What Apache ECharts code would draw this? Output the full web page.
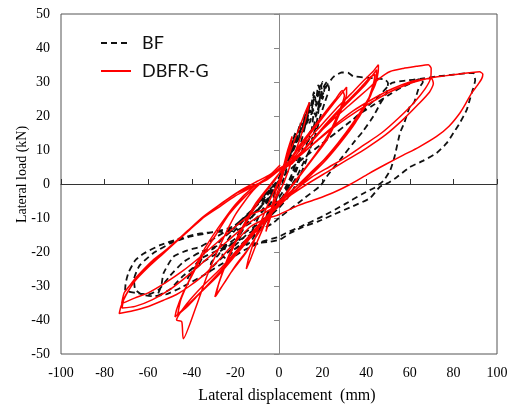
<!DOCTYPE html>
<html>
<head>
<meta charset="utf-8">
<script src="https://cdn.jsdelivr.net/npm/echarts@6/dist/echarts.min.js"></script>
<style>
html,body{margin:0;padding:0;background:#fff;}
#chart{width:515px;height:405px;}
</style>
</head>
<body>
<div id="chart"></div>
<script>
// ---- axis ticks ----
var xTicks = [-100,-80,-60,-40,-20,0,20,40,60,80,100];
var yTicks = [-50,-40,-30,-20,-10,0,10,20,30,40,50];
var seriesNames = ['BF','DBFR-G'];

// ---- BF (black dashed) loops: [displacement mm, load kN] ----
var bfLoop1 = [[0,0],[2,4],[4,8],[6,12.5],[7.5,15],[7,13],[5,8],[3,3.5],[1,-1],[-1,-4],[-3,-7],[-5,-10],[-7,-12],[-6,-10],[-4,-6],[-2,-3],[0,0]];
var bfLoop2 = [[2,4],[5,9],[8,14],[10,18],[11,17],[12,21],[13,20],[14,24],[13.5,22],[12,17],[10,12],[8,7],[6,3],[3,-1],[0,-4],[-3,-7],[-6,-10],[-9,-13],[-11,-15],[-13,-17],[-15,-18],[-14,-16],[-11,-12],[-8,-8],[-5,-5],[-2,-2],[0,0]];
var bfLoop3 = [[3,6],[6,10],[9,15],[11,17],[12,20],[13,19],[14,23],[15,22],[16,26],[17,25],[18,29],[19,27],[18.5,24],[17,20],[16,21],[15,16],[13,12],[12,13],[10,8],[8,4],[5,0],[2,-4],[-2,-8],[-6,-11],[-10,-14],[-14,-16],[-18,-18],[-22,-20],[-21,-18],[-18,-15],[-14,-11],[-10,-8],[-6,-5],[-2,-1],[0,1]];
var bfLoop3b = [[2,5],[5,9],[7,14],[9,13],[10,18],[12,17],[13,22],[14,21],[16,27],[17,24],[19,29],[20,27],[19,23],[17.5,22],[16,17],[14,15],[12,10],[10,9],[8,5],[6,2],[3,-2],[0,-6],[-4,-9],[-8,-13],[-12,-15],[-16,-18],[-20,-19],[-24,-22],[-26,-21],[-24,-18],[-20,-16],[-17,-13],[-13,-10],[-9,-7],[-5,-3],[-1,0],[0,1]];
var bfLoop4 = [[4,7],[7,12],[10,16],[12,18],[13,22],[15,21],[16,25],[18,26],[19,28],[20,30],[21,29],[20,25],[19,26],[18,21],[17,17],[15,13],[16,14],[14,10],[12,6],[10,3],[7,-1],[4,-4],[0,-7],[-5,-10],[-10,-13],[-15,-15],[-20,-18],[-25,-21],[-30,-24],[-32,-26],[-31,-23],[-28,-21],[-26,-19],[-22,-15],[-18,-12],[-14,-9],[-10,-6],[-6,-3],[-2,0],[0,2]];
var bfLoop4b = [[5,8],[9,14],[12,19],[14,18],[16,23],[18,24],[20,28],[22,30],[23,28],[21,24],[19,20],[17,15],[14,10],[11,6],[8,2],[4,-2],[0,-5],[-5,-9],[-10,-12],[-15,-14],[-20,-17],[-25,-19],[-30,-21],[-35,-23],[-40,-26],[-42,-28],[-40,-25],[-37,-24],[-34,-20],[-30,-19],[-26,-16],[-22,-14],[-18,-11],[-13,-8],[-8,-5],[-4,-2],[0,1]];
var bfLoop5 = [[4,6],[8,12],[12,17],[16,22],[19,25],[22,29],[25,31.5],[28.7,32.8],[31.8,32.7],[34,31.7],[40,31.3],[45,31],[48.6,30.7],[50,29.7],[49.4,26.8],[46.3,23.5],[43.3,19.9],[38.5,15.5],[34,12],[28,7.1],[21.9,2.2],[19,-0.5],[12,-4],[6,-7],[0,-10],[-3,-11.6],[-10,-14],[-20,-17],[-28,-19.5],[-36,-22],[-40,-25],[-44,-27],[-50,-31],[-56,-33],[-54,-30],[-53,-26.3],[-48.5,-21.4],[-42,-19.5],[-36.2,-18.5],[-32,-17],[-28.6,-15.5],[-22,-13],[-16,-10],[-10,-6],[-5,-2],[0,1]];
var bfLoop6 = [[3,3],[8,6],[14,9],[20,12],[26,15],[32,18],[38,21],[44,23.5],[50,26],[55,28],[60,29.5],[64.7,30.9],[66,30],[64,28],[62,24],[60,22.8],[57.5,18],[55.5,15],[53,8],[51,4],[48,1],[44,-1],[38,-3],[30,-6],[20,-9.5],[10,-12.5],[3,-14.5],[0,-15.5],[-8,-17],[-16,-19.5],[-25,-23],[-35,-27],[-45,-30.5],[-52,-32.5],[-58,-33],[-63,-32.5],[-66,-31],[-66.5,-28],[-64,-24],[-58,-20.5],[-50,-17.5],[-41,-15.5],[-33,-14.5],[-24,-13.2],[-16,-11],[-9,-7],[-3,-3],[0,0]];
var bfLoop7 = [[3,3],[10,7],[18,11],[26,15],[34,19],[40,22.5],[46,26],[51.7,29.7],[58,30.4],[64.7,30.9],[72,31.6],[80,32.2],[86,32.6],[89.1,32.7],[90,30.5],[89,28],[87.6,25],[86.1,21.8],[83,18],[80,15],[76.9,12],[72.3,9.1],[66,6.8],[60.1,5],[54,2],[50,0.3],[46.3,-0.8],[41.7,-4.2],[34,-6.5],[25,-9],[18,-11],[11.1,-12.6],[5,-14.5],[0.5,-16.3],[-4.1,-17],[-12,-17.5],[-20,-17.8],[-27,-18],[-36,-20],[-44,-23],[-50,-27],[-55,-31],[-60,-32.5],[-66,-32],[-70.6,-31.3],[-70.3,-29],[-69,-26],[-66,-22.5],[-62.2,-20.5],[-54.6,-18],[-45.4,-16],[-36,-14.5],[-28.6,-14.1],[-19.4,-13.6],[-12,-11],[-6,-7],[0,-3]];

// ---- DBFR-G (red solid) loops ----
var rLoop1 = [[0,0],[2,5],[4,10],[6,14],[5.5,12],[3,6],[1,1],[-1,-3],[-3,-8],[-5,-12],[-6,-14],[-5,-11],[-3,-6],[-1,-1],[0,1]];
var rLoop2 = [[3,6],[6,11],[9,16],[12,21],[14,24],[13,21],[10,14],[6,7],[2,0],[-2,-5],[-6,-11],[-10,-17],[-13,-22],[-15,-25],[-14,-22],[-11,-16],[-7,-9],[-3,-3],[0,1]];
var rLoop3 = [[4,6],[9,11],[15,16],[21,21],[26,25],[29,27.5],[30,26],[28,22],[23,15],[17,9],[10,3],[4,-2],[-2,-7],[-8,-13],[-14,-19],[-20,-24],[-25,-29],[-29.4,-33.2],[-28,-30],[-24,-23],[-19,-16],[-13,-9],[-7,-3],[-2,1],[0,3]];
var rLoop3b = [[5,7],[11,12],[17,17],[23,22],[28,26],[31,28.5],[31,26.5],[28,21],[22,13],[15,7],[8,1],[2,-4],[-4,-9],[-10,-15],[-16,-21],[-22,-26],[-27,-31],[-29,-33],[-27.5,-29],[-23,-21],[-17,-13],[-11,-6],[-5,-1],[0,3]];
var rLoop4 = [[6,7],[12,12],[19,17],[26,22],[33,26.5],[39,30.5],[43,33],[45.6,35.1],[45.5,33],[44,29],[40,24],[34,18],[27,12],[19,6],[11,1],[4,-3],[-3,-8],[-10,-13],[-18,-19],[-26,-25],[-34,-30.5],[-41,-35],[-47.7,-39.1],[-47,-37],[-44,-32],[-40,-27],[-35,-21],[-29,-15],[-23,-9],[-16,-4],[-9,0],[-3,3],[0,4]];
var rLoop4b = [[6,6],[13,11],[20,16],[27,21],[34,25.5],[40,29.5],[44.8,33.6],[44.5,31],[42,26],[37,20],[30,14],[22,8],[14,3],[6,-2],[-2,-7],[-10,-12.5],[-18,-18.5],[-27,-25],[-35,-30],[-42,-35],[-47,-40],[-44.6,-40.5],[-43.9,-45.5],[-38,-36],[-33,-27],[-27,-18],[-20,-9],[-12,-2],[-5,2],[0,4]];
var rLoop4c = [[7,7],[14,12],[22,18],[30,23.5],[37,28],[42,31.5],[44,32.2],[43.5,30],[41,25],[35,18],[28,12],[20,6],[12,1],[4,-4],[-4,-9],[-12,-15],[-20,-21],[-28,-27],[-36,-32],[-42,-36],[-46.5,-38.5],[-45,-34],[-41,-28],[-35,-20],[-28,-13],[-20,-6],[-12,-1],[-5,2],[0,4]];
var rLoop5 = [[8,8],[16,13.5],[24,18.5],[32,23],[40,27.5],[46,31],[51,33.1],[57,34],[63,34.6],[68.5,35.1],[69.8,34],[69.5,31],[67,28],[62,24],[55,19.5],[47,15],[39,11.5],[31,8],[23,5],[15,2],[7,-2],[0,-5],[-7,-7.5],[-13,-9],[-20,-12.5],[-28,-17],[-36,-21.4],[-44,-25.5],[-52,-29],[-60,-32],[-66,-33.5],[-72.2,-35.2],[-71,-32],[-68,-29.5],[-65.3,-27.3],[-58,-22.5],[-50,-18.5],[-42,-13.8],[-34.7,-9.6],[-27,-6],[-19.4,-2.7],[-12,-0.5],[-5.6,1.2],[0,4]];
var rLoop6 = [[8,7.5],[16,12],[25,17],[34,21.5],[43,25],[52,28],[60,30],[66,30.8],[70,31],[70.8,29.5],[69,27],[64,23.5],[57,19],[49,14.5],[40,10.5],[31,7],[22,3.5],[13,0],[6,-3],[0,-6],[-8,-9],[-15,-12],[-24,-17],[-33,-22],[-42,-27],[-50,-31],[-58,-34],[-66,-36],[-72,-36.5],[-71,-33.5],[-66,-28.5],[-60,-24],[-52,-19.5],[-44,-15],[-36,-10.5],[-28,-7],[-20,-3.5],[-11,-0.5],[-5,1.5],[0,4.5]];
var rLoop7 = [[9,8],[18,13],[27,17.5],[36,21.5],[45,25],[54,28],[62,30],[69.3,31.2],[76,31.8],[82,32.3],[88.4,32.8],[92,33],[93.5,32.3],[93,31],[91,29],[88.4,26.8],[85.5,23.5],[83,20.9],[78,17],[72.3,14],[64,10.8],[57,8.5],[49,5.8],[41,3],[33,0],[25,-2.5],[17,-4.5],[9,-6.3],[0,-9],[-7,-10.5],[-13,-12.5],[-20,-17],[-27,-22],[-34,-26.5],[-41,-30],[-47,-32.5],[-53,-34.2],[-60.7,-36.2],[-67,-37.3],[-73.3,-38.1],[-72.5,-36],[-70,-32.5],[-66,-28.5],[-60,-24.5],[-54,-21],[-48,-17.5],[-41,-13.5],[-34,-9.5],[-26,-5.5],[-18,-2],[-10,0.8],[-4,2.8],[0.5,5.6]];

var bfData = [].concat(bfLoop1,bfLoop2,bfLoop3,bfLoop3b,bfLoop4,bfLoop4b,bfLoop5,bfLoop6,bfLoop7);
var rData = [].concat(rLoop1,rLoop2,rLoop3,rLoop3b,rLoop4,rLoop4b,rLoop4c,rLoop5,rLoop6,rLoop7);

var serif = '"Liberation Serif","Times New Roman",serif';
var chart = echarts.init(document.getElementById('chart'), null, {renderer:'canvas'});
chart.setOption({
  animation:false,
  backgroundColor:'#fff',
  grid:{left:61, top:14, width:436, height:340, show:true, borderColor:'#555', borderWidth:1,
        containLabel:false, outerBoundsMode:'none'},
  legend:{
    data:seriesNames, orient:'vertical', left:95, top:28,
    itemWidth:30, itemHeight:14, itemGap:8,
    itemStyle:{opacity:0},
    textStyle:{fontFamily:'Lato,"Open Sans",sans-serif', fontSize:18, color:'#111', lineHeight:20, padding:[0,0,0,6]}
  },
  xAxis:[
    {type:'value', min:-100, max:100, interval:20, position:'bottom',
     axisLine:{show:false, onZero:false}, axisTick:{show:false}, splitLine:{show:false},
     axisLabel:{fontFamily:serif, fontSize:14, color:'#000', margin:12,
       formatter:function(v){return xTicks.indexOf(v)>=0 ? String(v) : '';}},
     name:'Lateral displacement  (mm)', nameLocation:'middle', nameGap:34, nameMoveOverlap:false,
     nameTextStyle:{fontFamily:serif, fontSize:16, color:'#000', padding:[0,0,0,16]}},
    {type:'value', min:-100, max:100, interval:20, position:'bottom',
     axisLine:{show:true, onZero:true, lineStyle:{color:'#333', width:1}},
     axisTick:{show:true, inside:true, length:5, lineStyle:{color:'#333'}},
     axisLabel:{show:false}, splitLine:{show:false}}
  ],
  yAxis:[
    {type:'value', min:-50, max:50, interval:10, position:'left',
     axisLine:{show:false, onZero:false}, axisTick:{show:false}, splitLine:{show:false},
     axisLabel:{fontFamily:serif, fontSize:14, color:'#000', margin:11,
       formatter:function(v){return yTicks.indexOf(v)>=0 ? String(v) : '';}},
     name:'Lateral load (kN)', nameLocation:'middle', nameGap:32, nameMoveOverlap:false,
     nameTextStyle:{fontFamily:serif, fontSize:14, color:'#000', padding:[0,0,0,19]}},
    {type:'value', min:-50, max:50, interval:10, position:'left',
     axisLine:{show:true, onZero:true, lineStyle:{color:'#888', width:1}},
     axisTick:{show:true, inside:false, length:5, lineStyle:{color:'#888'}},
     axisLabel:{show:false}, splitLine:{show:false}}
  ],
  series:[
    {name:'BF', type:'line', xAxisIndex:0, yAxisIndex:0, data:bfData, symbol:'none', smooth:0.15,
     lineStyle:{color:'#111', width:1.8, type:[6,4]}, itemStyle:{color:'#111'}, z:3},
    {name:'DBFR-G', type:'line', xAxisIndex:0, yAxisIndex:0, data:rData, symbol:'none', smooth:0.2,
     lineStyle:{color:'#ff0000', width:1.5, type:'solid'}, itemStyle:{color:'#ff0000'}, z:4}
  ]
});
</script>
</body>
</html>
